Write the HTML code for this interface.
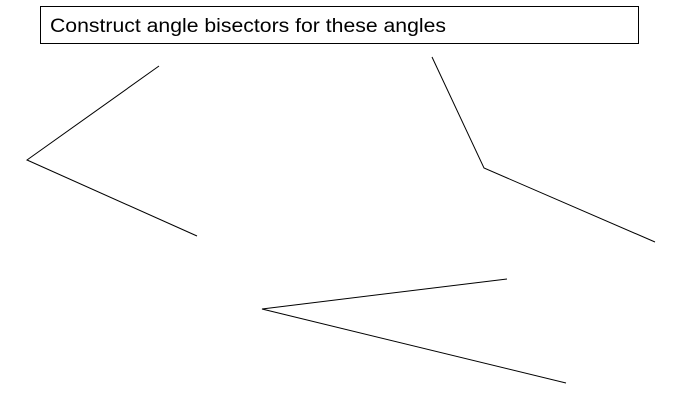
<!DOCTYPE html>
<html><head><meta charset="utf-8"><style>html,body{margin:0;padding:0;background:#fff}svg{display:block}</style></head>
<body>
<svg width="696" height="404" xmlns="http://www.w3.org/2000/svg">
<rect x="40.5" y="6.5" width="598" height="37" fill="#fff" stroke="#000" stroke-width="1"/>
<text x="50" y="32" font-family="Liberation Sans, sans-serif" font-size="19" textLength="396" lengthAdjust="spacingAndGlyphs" fill="#000">Construct angle bisectors for these angles</text>
<g stroke="#000" stroke-width="1" fill="none">
<polyline points="159,66 27,160 197,236"/>
<polyline points="432,57 484,168 655,242"/>
<polyline points="507,279 262,309 566,383"/>
</g>
</svg>
</body></html>
